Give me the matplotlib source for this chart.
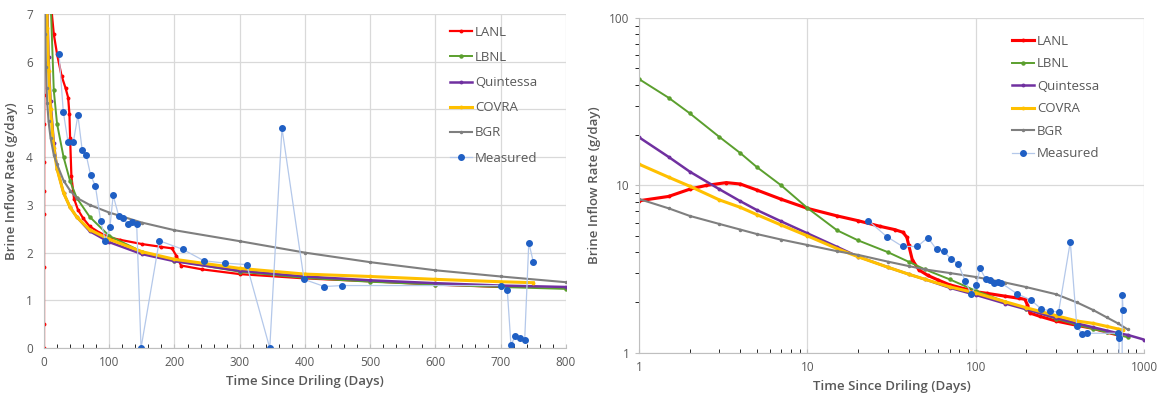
import matplotlib.pyplot as plt
from matplotlib.ticker import MultipleLocator, FixedLocator, NullFormatter

plt.rcParams['font.family'] = ['Open Sans', 'DejaVu Sans']

# model results (days, g/day)
t_model = [1, 1.5, 2, 3, 4, 5, 7, 10, 15, 20, 30, 40, 50, 70, 100, 150, 200, 300, 400, 500, 600, 700, 800]
lbnl = [43.2, 33.4, 27.0, 19.5, 15.6, 12.9, 10.0, 7.34, 5.4, 4.7, 4.0, 3.5, 3.15, 2.75, 2.35, 2.02, 1.83, 1.6, 1.47, 1.39, 1.33, 1.28, 1.24]
bgr = [8.3, 7.3, 6.58, 5.89, 5.45, 5.13, 4.75, 4.41, 4.05, 3.85, 3.51, 3.3, 3.15, 3.0, 2.84, 2.63, 2.47, 2.24, 2.0, 1.8, 1.63, 1.5, 1.38]

t_quint = [1, 1.5, 2, 3, 4, 5, 7, 10, 15, 20, 30, 40, 50, 70, 100, 150, 200, 300, 400, 500, 600, 700, 800, 1000]
quintessa = [19.4, 14.8, 12.1, 9.5, 8.05, 7.14, 6.1, 5.18, 4.3, 3.76, 3.25, 2.95, 2.75, 2.45, 2.22, 1.97, 1.82, 1.62, 1.5, 1.42, 1.36, 1.31, 1.28, 1.2]

t_covra = [1, 1.5, 2, 3, 4, 5, 7, 10, 15, 20, 30, 40, 50, 70, 100, 150, 200, 300, 400, 500, 600, 700, 750]
covra = [13.4, 11.2, 9.9, 8.2, 7.4, 6.7, 5.8, 5.0, 4.2, 3.75, 3.25, 2.95, 2.75, 2.48, 2.28, 2.02, 1.86, 1.67, 1.55, 1.5, 1.44, 1.39, 1.37]

t_lanl = [0, 0.02, 0.05, 0.1, 0.15, 0.2, 0.3, 0.4, 0.5, 0.7, 1, 1.5, 2, 2.5, 3.3, 4, 5, 7, 10, 15, 20, 27, 33, 37,
          39, 40, 42, 46, 52, 60, 70, 85, 100, 116, 150, 180, 196, 203, 210, 242, 300, 400, 500, 600, 700]
lanl = [0, 0.5, 1.7, 2.8, 3.3, 3.9, 4.7, 5.3, 6.0, 6.9, 8.1, 8.6, 9.5, 10.0, 10.4, 10.2, 9.4, 8.27, 7.3, 6.58, 6.16, 5.7, 5.45, 5.25,
        4.9, 4.4, 3.6, 3.13, 2.9, 2.72, 2.55, 2.42, 2.32, 2.27, 2.18, 2.12, 2.09, 1.93, 1.73, 1.65, 1.55, 1.46, 1.4, 1.33, 1.28]

# measured
t_meas = [23, 29.6, 36.8, 45, 52, 58.5, 64.6, 71.5, 78.7, 86.8, 94, 101, 106, 114.5, 121.6, 128, 135, 142, 148.7,
          176.7, 212.5, 245, 277, 310.6, 346, 364.7, 398.5, 429.6, 457, 700, 710, 715.7, 722, 729.5, 736.7, 743, 750]
meas = [6.17, 4.95, 4.32, 4.32, 4.88, 4.15, 4.05, 3.62, 3.4, 2.67, 2.25, 2.53, 3.2, 2.77, 2.72, 2.6, 2.64, 2.61, 0,
        2.25, 2.07, 1.83, 1.78, 1.75, 0, 4.61, 1.44, 1.29, 1.31, 1.31, 1.22, 0.06, 0.25, 0.22, 0.17, 2.21, 1.8]

txt = '#595959'
gridc = '#d9d9d9'

fig = plt.figure(figsize=(11.61, 4.01), dpi=100)
ax1 = fig.add_axes([0.0379, 0.132, 0.4496, 0.833])
ax2 = fig.add_axes([0.5504, 0.12, 0.435, 0.835])


def draw(ax, lw_scale, meas_t, meas_v):
    ax.plot(t_lanl, lanl, color='#ff0000', lw=1.6 * lw_scale, marker='o', ms=1.8, label='LANL')
    ax.plot(t_model, lbnl, color='#5b9f2e', lw=1.4, marker='o', ms=2.2, label='LBNL')
    ax.plot(t_quint, quintessa, color='#7030a0', lw=1.8, marker='o', ms=1.8, label='Quintessa')
    ax.plot(t_covra, covra, color='#ffc000', lw=2.2, marker='o', ms=1.8, label='COVRA')
    ax.plot(t_model, bgr, color='#7f7f7f', lw=1.5, marker='o', ms=1.5, label='BGR')
    ax.plot(meas_t, meas_v, color='#b4c8ea', lw=0.9, marker='o', ms=4,
            mfc='#1f5fc4', mec='#1f5fc4', label='Measured')
    for s in ['top', 'right']:
        ax.spines[s].set_visible(False)
    for s in ['left', 'bottom']:
        ax.spines[s].set_color('#bfbfbf')
    ax.tick_params(labelsize=8.5, labelcolor=txt, colors='#bfbfbf')
    ax.set_xlabel('Time Since Driling (Days)', fontsize=9.5, color=txt, fontweight='semibold', labelpad=4)
    ax.set_ylabel('Brine Inflow Rate (g/day)', fontsize=9.5, color=txt, fontweight='semibold', labelpad=6)


# linear panel
draw(ax1, 1.0, t_meas, meas)
ax1.set_xlim(0, 800)
ax1.set_ylim(0, 7)
ax1.xaxis.set_major_locator(MultipleLocator(100))
ax1.xaxis.set_minor_locator(MultipleLocator(20))
ax1.yaxis.set_major_locator(MultipleLocator(1))
ax1.grid(True, which='major', color=gridc, lw=0.9)
ax1.tick_params(axis='x', which='both', direction='in', length=3)
ax1.tick_params(axis='y', length=0, pad=8)
ax1.tick_params(axis='x', pad=6)
ax1.legend(loc='upper left', bbox_to_anchor=(0.755, 1.0), frameon=False, fontsize=9.5,
           labelcolor=txt, handlelength=1.7, handletextpad=0.2, labelspacing=0.92)

# log panel (zero readings cannot be shown)
mt = [t for t, v in zip(t_meas, meas) if v > 0]
mv = [v for v in meas if v > 0]
draw(ax2, 1.4, mt, mv)
ax2.set_xscale('log', nonpositive='mask')
ax2.set_yscale('log', nonpositive='mask')
ax2.set_xlim(1, 1000)
ax2.set_ylim(1, 100)
ax2.xaxis.set_major_locator(FixedLocator([1, 10, 100, 1000]))
ax2.yaxis.set_major_locator(FixedLocator([1, 10, 100]))
ax2.set_xticklabels(['1', '10', '100', '1000'])
ax2.set_yticklabels(['1', '10', '100'])
ax2.xaxis.set_minor_formatter(NullFormatter())
ax2.yaxis.set_minor_formatter(NullFormatter())
ax2.grid(True, which='major', color=gridc, lw=0.9)
ax2.tick_params(axis='x', which='both', direction='in', length=3, pad=6)
ax2.tick_params(axis='y', which='both', direction='out', length=3, pad=4)
ax2.legend(loc='upper left', bbox_to_anchor=(0.715, 0.985), frameon=False, fontsize=9.5,
           labelcolor=txt, handlelength=1.7, handletextpad=0.2, labelspacing=0.72)

fig.savefig('out.png', dpi=100)
